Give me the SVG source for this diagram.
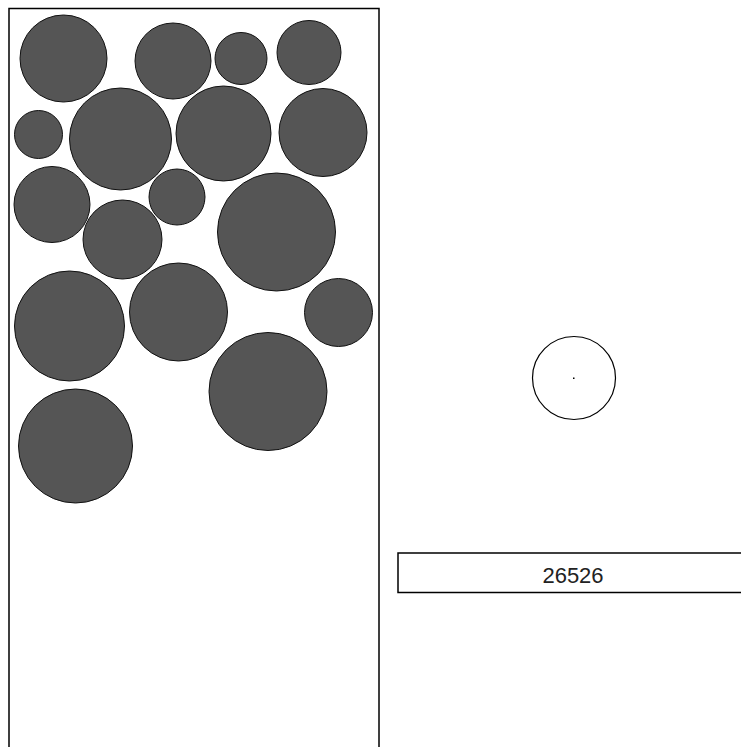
<svg xmlns="http://www.w3.org/2000/svg" width="741" height="747" viewBox="0 0 741 747">
<style>
.ball{fill:#555555;stroke:#111111;stroke-width:1}
.frame{fill:none;stroke:#000000;stroke-width:1.5}
.label{font-family:"Liberation Sans",Arial,sans-serif;font-size:22px;fill:#222222;text-anchor:middle}
</style>
<rect width="741" height="747" fill="#ffffff"/>
<g id="container">
<rect class="frame" x="9" y="8.5" width="370" height="745"/>
</g>
<g id="balls">
<circle class="ball" cx="63.5" cy="58.5" r="43.5"/>
<circle class="ball" cx="173" cy="61" r="38"/>
<circle class="ball" cx="241" cy="58.5" r="26"/>
<circle class="ball" cx="309" cy="52.5" r="32"/>
<circle class="ball" cx="38.5" cy="134.5" r="24"/>
<circle class="ball" cx="120.5" cy="139" r="51"/>
<circle class="ball" cx="223.5" cy="133.5" r="47.5"/>
<circle class="ball" cx="323" cy="132.5" r="44"/>
<circle class="ball" cx="52" cy="204.5" r="38"/>
<circle class="ball" cx="177" cy="197" r="28"/>
<circle class="ball" cx="122.5" cy="239.5" r="39.5"/>
<circle class="ball" cx="276.5" cy="232" r="59"/>
<circle class="ball" cx="69.5" cy="326" r="55"/>
<circle class="ball" cx="178.5" cy="312" r="49"/>
<circle class="ball" cx="338.5" cy="312.5" r="34"/>
<circle class="ball" cx="268" cy="391.5" r="59"/>
<circle class="ball" cx="75.5" cy="446" r="57"/>
</g>
<g id="preview">
<circle cx="574" cy="378" r="41.5" fill="none" stroke="#000" stroke-width="1.2"/>
<rect x="573" y="377.5" width="1.5" height="1.5" fill="#000"/>
</g>
<g id="score">
<rect class="frame" x="398" y="553" width="360" height="39.5"/>
<text class="label" x="573" y="583">26526</text>
</g>
</svg>
